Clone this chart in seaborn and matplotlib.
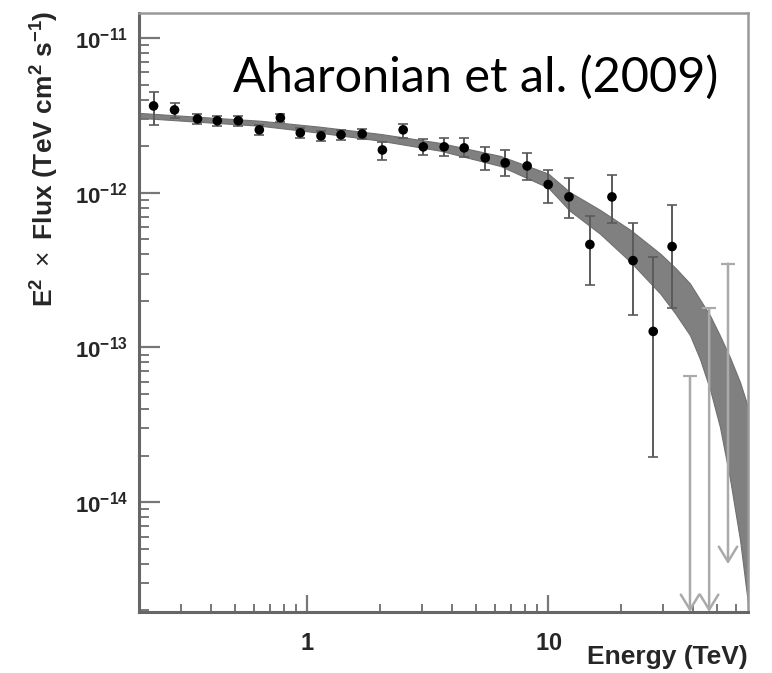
import numpy as np
import pandas as pd
import matplotlib
matplotlib.use("Agg")
import matplotlib.pyplot as plt
from matplotlib.ticker import FixedLocator, LogLocator, NullFormatter
import seaborn as sns

# ---------------- data ----------------
energy = [0.23, 0.281, 0.35, 0.423, 0.517, 0.632, 0.773, 0.935, 1.14, 1.38,
          1.69, 2.05, 2.50, 3.03, 3.70, 4.48, 5.48, 6.63, 8.18, 10.0,
          12.2, 14.9, 18.4, 22.5, 27.3, 32.7]
flux = [3.64e-12, 3.43e-12, 3.00e-12, 2.92e-12, 2.92e-12, 2.55e-12, 3.05e-12,
        2.44e-12, 2.33e-12, 2.37e-12, 2.40e-12, 1.89e-12, 2.55e-12, 1.98e-12,
        1.98e-12, 1.95e-12, 1.68e-12, 1.56e-12, 1.49e-12, 1.13e-12, 9.4e-13,
        4.63e-13, 9.4e-13, 3.64e-13, 1.27e-13, 4.49e-13]
flux_hi = [4.49e-12, 3.81e-12, 3.23e-12, 3.14e-12, 3.14e-12, 2.75e-12, 3.25e-12,
           2.63e-12, 2.51e-12, 2.55e-12, 2.59e-12, 2.13e-12, 2.79e-12, 2.23e-12,
           2.26e-12, 2.26e-12, 1.98e-12, 1.89e-12, 1.81e-12, 1.41e-12, 1.25e-12,
           7.11e-13, 1.31e-12, 6.4e-13, 3.87e-13, 8.37e-13]
flux_lo = [2.75e-12, 3.05e-12, 2.79e-12, 2.71e-12, 2.71e-12, 2.37e-12, 2.87e-12,
           2.26e-12, 2.17e-12, 2.20e-12, 2.23e-12, 1.63e-12, 2.26e-12, 1.76e-12,
           1.73e-12, 1.71e-12, 1.41e-12, 1.29e-12, 1.21e-12, 8.62e-13, 6.9e-13,
           2.55e-13, 6.4e-13, 1.61e-13, 1.95e-14, 1.81e-13]

ul_energy = [38.8, 46.6, 55.8]
ul_flux = [6.5e-14, 1.79e-13, 3.48e-13]
ul_arrow_end = [1.95e-15, 1.95e-15, 3.98e-15]

band_energy = [0.201, 0.360, 0.638, 1.132, 2.01, 3.56, 6.32, 10.0, 12.3,
               16.4, 21.9, 29.2, 33.8, 38.8, 42.7, 47.0, 51.7, 56.9, 62.6, 67.6]
band_upper = [3.28e-12, 3.09e-12, 2.92e-12, 2.67e-12, 2.40e-12, 2.10e-12,
              1.73e-12, 1.33e-12, 1.01e-12, 7.76e-13, 5.77e-13, 4.04e-13,
              3.26e-13, 2.59e-13, 2.04e-13, 1.61e-13, 1.19e-13, 8.61e-14,
              5.96e-14, 4.10e-14]
band_lower = [3.05e-12, 2.87e-12, 2.71e-12, 2.44e-12, 2.17e-12, 1.87e-12,
              1.49e-12, 1.08e-12, 7.65e-13, 5.44e-13, 3.59e-13, 2.23e-13,
              1.65e-13, 1.20e-13, 8.4e-14, 5.36e-14, 3.05e-14, 1.41e-14,
              5.7e-15, 2.20e-15]

xlim = (0.2, 67.6)
ylim = (1.95e-15, 1.45e-11)
ytick_vals = [1e-11, 1e-12, 1e-13, 1e-14]
ytick_labels = [r"$\mathbf{10^{-11}}$", r"$\mathbf{10^{-12}}$",
                r"$\mathbf{10^{-13}}$", r"$\mathbf{10^{-14}}$"]
xtick_vals = [1, 10]
xtick_labels = [r"$\mathbf{1}$", r"$\mathbf{10}$"]

# ---------------- style ----------------
sns.set_theme(style="white")
plt.rcParams["font.family"] = ["Liberation Sans", "DejaVu Sans"]
plt.rcParams["mathtext.fontset"] = "custom"
plt.rcParams["mathtext.rm"] = "Liberation Sans"
plt.rcParams["mathtext.bf"] = "Liberation Sans:bold"
plt.rcParams["mathtext.it"] = "Liberation Sans:italic"

fig = plt.figure(figsize=(7.72, 6.73), dpi=100)
ax = fig.add_axes([0.180, 0.0906, 0.789, 0.890])

# band
ax.fill_between(band_energy, band_lower, band_upper, color="#808080",
                linewidth=0.8, edgecolor="#707070", zorder=2)

# error bars
yerr = [np.array(flux) - np.array(flux_lo), np.array(flux_hi) - np.array(flux)]
ax.errorbar(energy, flux, yerr=yerr, fmt="none", ecolor="#5a5a5a",
            elinewidth=1.4, capsize=3.5, capthick=1.2, zorder=3)

df = pd.DataFrame({"energy": energy, "flux": flux})
sns.scatterplot(data=df, x="energy", y="flux", ax=ax, color="black",
                s=48, edgecolor="none", zorder=4, legend=False)

# upper limits
for e, top, end in zip(ul_energy, ul_flux, ul_arrow_end):
    ax.annotate("", xy=(e, end), xytext=(e, top),
                arrowprops=dict(arrowstyle="->,head_length=0.9,head_width=0.55",
                                color="#aaaaaa", lw=1.8, shrinkA=0, shrinkB=0),
                zorder=3, annotation_clip=False)
    ax.errorbar([e], [top], yerr=[[0], [0]], fmt="none", ecolor="#aaaaaa",
                capsize=5, capthick=1.5, zorder=3)

ax.set_xscale("log")
ax.set_yscale("log")
ax.set_xlim(*xlim)
ax.set_ylim(*ylim)

ax.yaxis.set_major_locator(FixedLocator(ytick_vals))
ax.set_yticklabels(ytick_labels)
ax.yaxis.set_minor_locator(LogLocator(base=10, subs=np.arange(2, 10)))
ax.yaxis.set_minor_formatter(NullFormatter())
ax.xaxis.set_major_locator(FixedLocator(xtick_vals))
ax.set_xticklabels(xtick_labels)
ax.xaxis.set_minor_locator(LogLocator(base=10, subs=np.arange(2, 10)))
ax.xaxis.set_minor_formatter(NullFormatter())

ax.tick_params(axis="y", which="major", direction="in", length=15, width=1.6,
               color="#777777", labelsize=16, pad=8, right=False, left=True)
ax.tick_params(axis="y", which="minor", direction="in", length=7, width=1.4,
               color="#777777", right=False, left=True)
ax.tick_params(axis="x", which="major", direction="in", length=12, width=1.6,
               color="#777777", labelsize=17, pad=15, top=False, bottom=True)
ax.tick_params(axis="x", which="minor", direction="in", length=6, width=1.4,
               color="#777777", top=False, bottom=True)

for side in ["left", "bottom"]:
    ax.spines[side].set_color("#666666")
    ax.spines[side].set_linewidth(2.2)
for side in ["top", "right"]:
    ax.spines[side].set_color("#999999")
    ax.spines[side].set_linewidth(1.8)

ax.set_xlabel("")
ax.set_ylabel("")
fig.text(0.969, 0.013, "Energy (TeV)", ha="right", va="baseline",
         fontsize=19, fontweight="bold")
fig.text(0.058, 0.985,
         r"$\mathbf{E^{2}}\ \times\ \mathbf{Flux\ (TeV\ cm^{2}\ s^{-1})}$",
         rotation=90, ha="center", va="top", fontsize=19)

ax.text(0.154, 0.868, "Aharonian et al. (2009)", transform=ax.transAxes,
        fontsize=35, family=["Lato", "DejaVu Sans"], ha="left", va="baseline",
        color="black")

fig.savefig("out.png", dpi=100)
